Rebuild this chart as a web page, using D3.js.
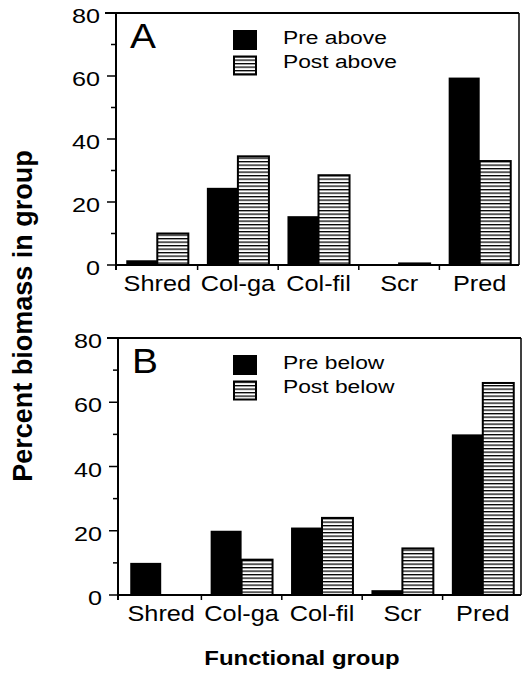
<!DOCTYPE html>
<html><head><meta charset="utf-8">
<script src="https://cdn.jsdelivr.net/npm/d3@7/dist/d3.min.js"></script>
<style>html,body{margin:0;padding:0;background:#fff;}svg{display:block;}text{font-family:"Liberation Sans",Arial,Helvetica,sans-serif;fill:#000;}</style>
</head><body>
<script>
const categories = ["Shred", "Col-ga", "Col-fil", "Scr", "Pred"];
const preAbove  = [1.5, 24.5, 15.5, 0, 59.5];
const postAbove = [10, 34.5, 28.5, 0.5, 33];
const preBelow  = [10, 20, 21, 1.5, 50];
const postBelow = [0, 11, 24, 14.5, 66];
const yTicks = [0, 20, 40, 60, 80];
const yMinorTicks = [10, 30, 50, 70];
const panelLetters = ["A", "B"];
const legendAbove = ["Pre above", "Post above"];
const legendBelow = ["Pre below", "Post below"];
const xTitle = "Functional group";
const yTitle = "Percent biomass in group";

const W = 532, H = 674;
const svg = d3.select("body").append("svg").attr("width", W).attr("height", H);

const defs = svg.append("defs");
const pat = defs.append("pattern").attr("id", "hatch").attr("patternUnits", "userSpaceOnUse")
  .attr("width", 8).attr("height", 3.5);
pat.append("rect").attr("width", 8).attr("height", 3.5).attr("fill", "#fff");
pat.append("rect").attr("y", 0).attr("width", 8).attr("height", 1.3).attr("fill", "#000");

function stxt(g, x, y, str, size, anchor, sx, weight) {
  return g.append("text")
    .attr("transform", `translate(${x},${y}) scale(${sx},1)`)
    .attr("text-anchor", anchor)
    .attr("font-size", size)
    .attr("font-weight", weight || "normal")
    .text(str);
}

const panels = [
  {top: 13, bottom: 265, left: 116, right: 519, bl: 117, br: 520, letter: panelLetters[0], legend: legendAbove, pre: preAbove, post: postAbove},
  {top: 338, bottom: 595, left: 118, right: 521, bl: 121, br: 523, letter: panelLetters[1], legend: legendBelow, pre: preBelow, post: postBelow}
];

panels.forEach(p => {
  const g = svg.append("g");
  const y = d3.scaleLinear().domain([0, 80]).range([p.bottom, p.top]);
  const x = d3.scaleBand().domain(categories).range([p.bl, p.br]).padding(0);
  const bw = x.bandwidth();
  const barW = bw * 0.385, off = bw * 0.115;

  // bars
  categories.forEach((c, i) => {
    const v1 = p.pre[i], v2 = p.post[i];
    if (v1 > 0) g.append("rect").attr("x", x(c) + off).attr("y", y(v1))
      .attr("width", barW).attr("height", y(0) - y(v1)).attr("fill", "#000");
    if (v2 > 0) g.append("rect").attr("x", x(c) + off + barW).attr("y", y(v2))
      .attr("width", barW).attr("height", y(0) - y(v2))
      .attr("fill", "url(#hatch)").attr("stroke", "#000").attr("stroke-width", 2);
  });

  // frame
  g.append("line").attr("x1", p.left - 11).attr("x2", p.right).attr("y1", p.top).attr("y2", p.top).attr("stroke", "#000").attr("stroke-width", 2);
  g.append("line").attr("x1", p.right).attr("x2", p.right).attr("y1", p.top).attr("y2", p.bottom).attr("stroke", "#000").attr("stroke-width", 1.5);
  g.append("line").attr("x1", p.left).attr("x2", p.left).attr("y1", p.top).attr("y2", p.bottom + 5).attr("stroke", "#000").attr("stroke-width", 2);
  g.append("line").attr("x1", p.left).attr("x2", p.right).attr("y1", p.bottom).attr("y2", p.bottom).attr("stroke", "#000").attr("stroke-width", 2);

  // y ticks
  yTicks.forEach(t => {
    g.append("line").attr("x1", p.left - 9).attr("x2", p.left).attr("y1", y(t)).attr("y2", y(t)).attr("stroke", "#000").attr("stroke-width", 1.5);
    stxt(g, p.left - 16, y(t) + 10, String(t), 21, "end", 1.2);
  });
  yMinorTicks.forEach(t => {
    g.append("line").attr("x1", p.left - 5).attr("x2", p.left).attr("y1", y(t)).attr("y2", y(t)).attr("stroke", "#000").attr("stroke-width", 1.5);
  });

  // x ticks at band boundaries
  categories.forEach((c, i) => {
    if (i > 0) g.append("line").attr("x1", x(c)).attr("x2", x(c)).attr("y1", p.bottom).attr("y2", p.bottom + 5).attr("stroke", "#000").attr("stroke-width", 1.5);
    stxt(g, x(c) + bw / 2, p.bottom + 26, c, 22, "middle", 1.15);
  });

  // panel letter
  stxt(g, p.left + 14, p.top + 35, p.letter, 36, "start", 1.08);

  // legend
  g.append("rect").attr("x", 233).attr("y", p.top + 17).attr("width", 24).attr("height", 20).attr("fill", "#000");
  g.append("rect").attr("x", 234).attr("y", p.top + 43.5).attr("width", 22).attr("height", 18)
    .attr("fill", "url(#hatch)").attr("stroke", "#000").attr("stroke-width", 2);
  stxt(g, 283, p.top + 31, p.legend[0], 19, "start", 1.2);
  stxt(g, 283, p.top + 55, p.legend[1], 19, "start", 1.2);
});

// axis titles
stxt(svg, 302, 665, xTitle, 21, "middle", 1.14, "bold");
svg.append("text").attr("transform", "translate(32,316) rotate(-90)")
  .attr("text-anchor", "middle").attr("font-size", 27).attr("font-weight", "bold").text(yTitle);
</script>
</body></html>
